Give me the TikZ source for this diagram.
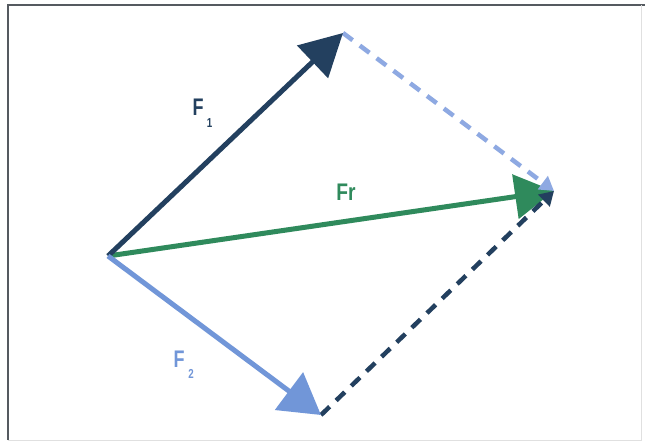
\documentclass[tikz,border=0pt]{standalone}
\usepackage{fontspec}
\setmainfont{Liberation Sans}
\usetikzlibrary{arrows.meta}
\definecolor{navy}{HTML}{23405F}
\definecolor{lblue}{HTML}{7196D8}
\definecolor{dlblue}{HTML}{8EA9E2}
\definecolor{grn}{HTML}{2F8A5C}
\definecolor{frame}{HTML}{555A60}
\tikzset{
  vec/.style={line width=5pt},
  dsh/.style={line width=4.5pt, dash pattern=on 12pt off 9pt},
  lab/.style={inner sep=0pt, font=\fontsize{24}{24}\selectfont\bfseries},
  sub/.style={inner sep=0pt, font=\fontsize{13}{13}\selectfont\bfseries},
}
\begin{document}
\begin{tikzpicture}[x=1pt,y=-1pt]
\useasboundingbox (0,0) rectangle (645,443);
\fill[white] (0,0) rectangle (645,443);
% frame
\draw[frame, line width=2pt] (8,440) -- (8,5) -- (645,5);
\draw[black!12, line width=1pt] (641,5) -- (641,440) -- (8,440);
% points
\coordinate (O) at (108,256);
\coordinate (A) at (343,33);
\coordinate (B) at (321,415);
\coordinate (R) at (554,191);
% resultant
\draw[vec, grn, -{Triangle[length=39pt,width=44pt]}] (O) -- (R);
% dashed
\draw[dsh, dlblue, -{Triangle[length=14pt,width=16pt]}] (A) -- (R);
\draw[dsh, navy, -{Triangle[length=14pt,width=16pt]}] (B) -- (R);
% components
\draw[vec, navy, -{Triangle[length=42pt,width=44pt]}] (O) -- (A);
\draw[vec, lblue, -{Triangle[length=40pt,width=46pt]}] (O) -- (B);
% labels
\node[lab, navy] (l1) at (198,107) {\scalebox{0.75}[1]{F}};
\node[sub, navy] (s1) at (209.5,123) {\scalebox{0.75}[1]{1}};
\node[lab, lblue] (l2) at (179,359) {\scalebox{0.75}[1]{F}};
\node[sub, lblue] (s2) at (191,374) {\scalebox{0.75}[1]{2}};
\node[lab, grn] (lr) at (346,192) {\scalebox{0.8}[1]{Fr}};
\end{tikzpicture}
\end{document}
